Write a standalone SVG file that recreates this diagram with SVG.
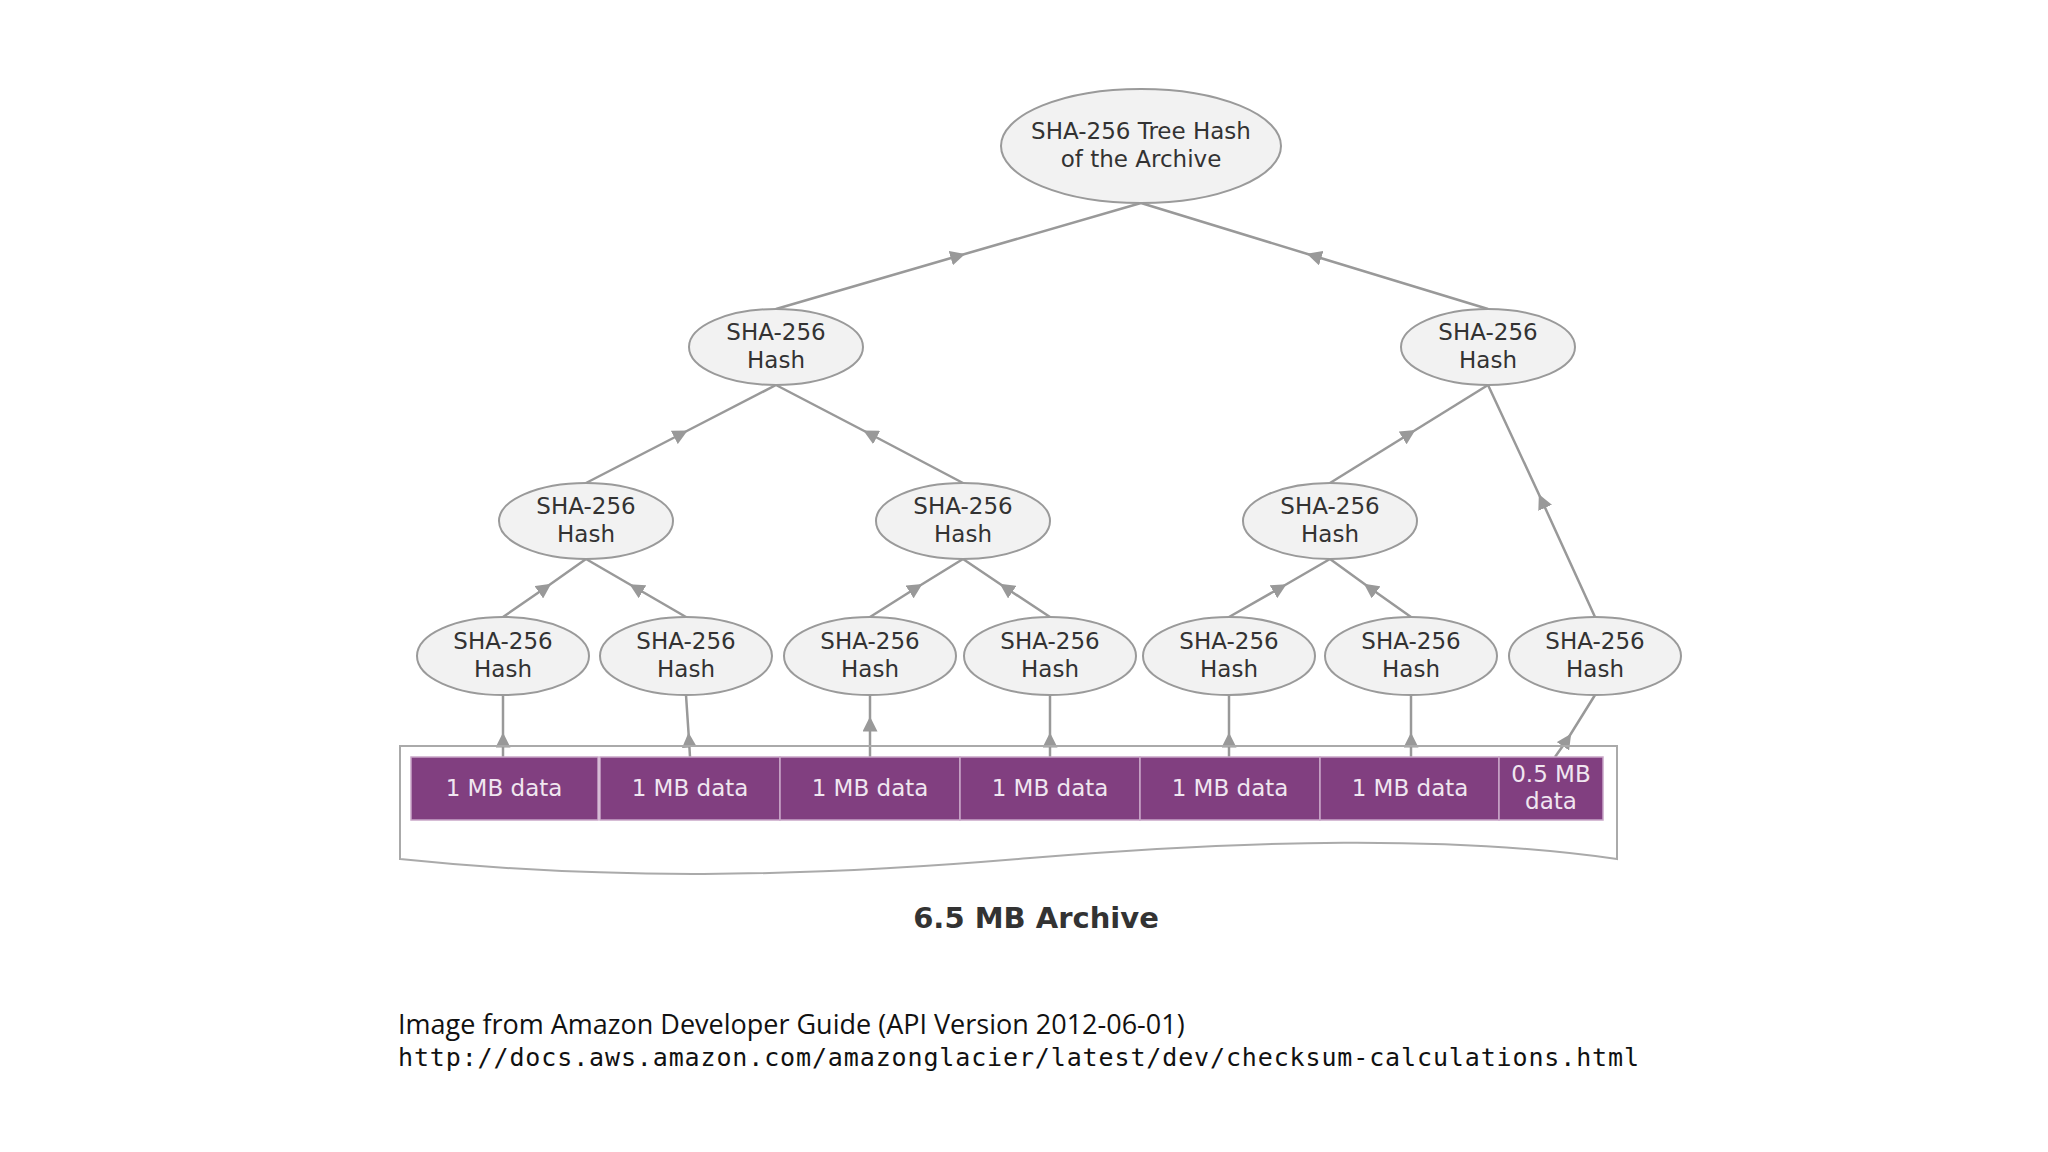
<svg xmlns="http://www.w3.org/2000/svg" width="2048" height="1152" viewBox="0 0 2048 1152">
<style>
.n ellipse{fill:#f2f2f2;stroke:#9a9a9a;stroke-width:2}
.n text{font-family:"DejaVu Sans",sans-serif;font-size:23px;fill:#333;text-anchor:middle}
.c path{fill:none;stroke:#999;stroke-width:2.5;marker-mid:url(#ah)}
.d rect{fill:#813f80;stroke:#c9a6c8;stroke-width:1.5}
.d text{font-family:"DejaVu Sans",sans-serif;font-size:23px;fill:#f0e6f0;text-anchor:middle}
</style>
<defs><marker id="ah" viewBox="0 0 10 10" refX="5" refY="5" markerWidth="6" markerHeight="6" orient="auto"><path d="M0,0 L10,5 L0,10 Z" fill="#999"/></marker></defs>
<rect width="2048" height="1152" fill="#fff"/>
<g class="c">
<path d="M776,309 L958,256 L1141,203"/>
<path d="M1488,309 L1314,256 L1141,203"/>
<path d="M586,483 L681,434 L776,385"/>
<path d="M963,483 L870,434 L776,385"/>
<path d="M1330,483 L1409,434 L1488,385"/>
<path d="M1595,617 L1542,501 L1488,385"/>
<path d="M503,617 L545,588 L586,559"/>
<path d="M686,617 L636,588 L586,559"/>
<path d="M870,617 L916,588 L963,559"/>
<path d="M1050,617 L1006,588 L963,559"/>
<path d="M1229,617 L1280,588 L1330,559"/>
<path d="M1411,617 L1370,588 L1330,559"/>
<path d="M503,757 L503,740 L503,695"/>
<path d="M690,757 L689,740 L686,695"/>
<path d="M870,757 L870,724 L870,695"/>
<path d="M1050,757 L1050,740 L1050,695"/>
<path d="M1229,757 L1229,740 L1229,695"/>
<path d="M1411,757 L1411,740 L1411,695"/>
<path d="M1555,757 L1567,740 L1595,695"/>
</g>
<g id="root" class="n"><ellipse cx="1141" cy="146" rx="140" ry="57"/><text x="1141" y="139">SHA-256 Tree Hash</text><text x="1141" y="167">of the Archive</text></g>
<g id="h1a" class="n"><ellipse cx="776" cy="347" rx="87" ry="38"/><text x="776" y="340">SHA-256</text><text x="776" y="368">Hash</text></g>
<g id="h1b" class="n"><ellipse cx="1488" cy="347" rx="87" ry="38"/><text x="1488" y="340">SHA-256</text><text x="1488" y="368">Hash</text></g>
<g id="h2a" class="n"><ellipse cx="586" cy="521" rx="87" ry="38"/><text x="586" y="514">SHA-256</text><text x="586" y="542">Hash</text></g>
<g id="h2b" class="n"><ellipse cx="963" cy="521" rx="87" ry="38"/><text x="963" y="514">SHA-256</text><text x="963" y="542">Hash</text></g>
<g id="h2c" class="n"><ellipse cx="1330" cy="521" rx="87" ry="38"/><text x="1330" y="514">SHA-256</text><text x="1330" y="542">Hash</text></g>
<g id="l1" class="n"><ellipse cx="503" cy="656" rx="86" ry="39"/><text x="503" y="649">SHA-256</text><text x="503" y="677">Hash</text></g>
<g id="l2" class="n"><ellipse cx="686" cy="656" rx="86" ry="39"/><text x="686" y="649">SHA-256</text><text x="686" y="677">Hash</text></g>
<g id="l3" class="n"><ellipse cx="870" cy="656" rx="86" ry="39"/><text x="870" y="649">SHA-256</text><text x="870" y="677">Hash</text></g>
<g id="l4" class="n"><ellipse cx="1050" cy="656" rx="86" ry="39"/><text x="1050" y="649">SHA-256</text><text x="1050" y="677">Hash</text></g>
<g id="l5" class="n"><ellipse cx="1229" cy="656" rx="86" ry="39"/><text x="1229" y="649">SHA-256</text><text x="1229" y="677">Hash</text></g>
<g id="l6" class="n"><ellipse cx="1411" cy="656" rx="86" ry="39"/><text x="1411" y="649">SHA-256</text><text x="1411" y="677">Hash</text></g>
<g id="l7" class="n"><ellipse cx="1595" cy="656" rx="86" ry="39"/><text x="1595" y="649">SHA-256</text><text x="1595" y="677">Hash</text></g>
<g id="archive">
<path d="M400,746 L1617,746 L1617,859 C1450,835 1250,840 1030,858 C800,878 600,880 400,859 Z" fill="none" stroke="#aaa" stroke-width="2"/>
<g class="d">
<rect x="411" y="757" width="187" height="63"/><text x="504" y="796">1 MB data</text>
<rect x="600" y="757" width="180" height="63"/><text x="690" y="796">1 MB data</text>
<rect x="780" y="757" width="180" height="63"/><text x="870" y="796">1 MB data</text>
<rect x="960" y="757" width="180" height="63"/><text x="1050" y="796">1 MB data</text>
<rect x="1140" y="757" width="180" height="63"/><text x="1230" y="796">1 MB data</text>
<rect x="1320" y="757" width="179" height="63"/><text x="1410" y="796">1 MB data</text>
<rect x="1499" y="757" width="104" height="63"/><text x="1551" y="782">0.5 MB</text><text x="1551" y="809">data</text>
</g>
<text x="1036" y="928" font-family="'DejaVu Sans',sans-serif" font-weight="bold" font-size="29" fill="#333" text-anchor="middle">6.5 MB Archive</text>
</g>
<text x="398" y="1034" font-family="'Open Sans','DejaVu Sans',sans-serif" font-size="27" fill="#111">Image from Amazon Developer Guide (API Version 2012-06-01)</text>
<text x="398" y="1066" font-family="'DejaVu Sans Mono',monospace" font-size="25" fill="#111" textLength="1241" lengthAdjust="spacing">http://docs.aws.amazon.com/amazonglacier/latest/dev/checksum-calculations.html</text>
</svg>
